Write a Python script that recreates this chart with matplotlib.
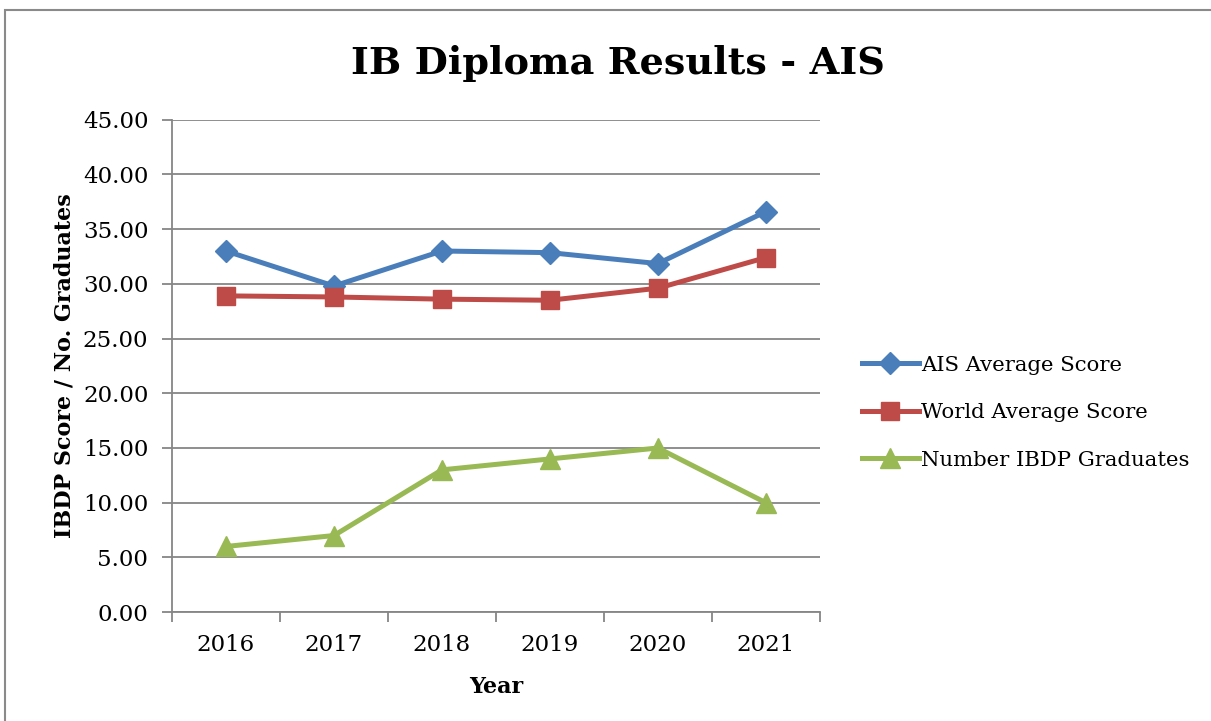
import matplotlib.pyplot as plt
from matplotlib.patches import Rectangle

years = ['2016', '2017', '2018', '2019', '2020', '2021']
ais_avg = [33.0, 29.8, 33.0, 32.85, 31.85, 36.6]
world_avg = [28.9, 28.8, 28.6, 28.5, 29.6, 32.4]
graduates = [6, 7, 13, 14, 15, 10]

plt.rcParams['font.family'] = ['DejaVu Serif']

fig = plt.figure(figsize=(12.11, 7.21), dpi=100)
ax = fig.add_axes([0.142, 0.151, 0.535, 0.683])

# outer chart border (right and bottom edges run off the picture)
fig.add_artist(Rectangle((0.004, -0.05), 1.1, 1.036, transform=fig.transFigure,
                         fill=False, edgecolor='#8a8a8a', linewidth=1.5))

x = list(range(len(years)))
ax.plot(x, ais_avg, color='#4A7EBB', linewidth=3.6, marker='D', markersize=11.5,
        label='AIS Average Score')
ax.plot(x, world_avg, color='#BE4B48', linewidth=3.6, marker='s', markersize=13.5,
        label='World Average Score')
ax.plot(x, graduates, color='#98B954', linewidth=3.6, marker='^', markersize=15,
        label='Number IBDP Graduates')

ax.set_xlim(-0.5, len(years) - 0.5)
ax.set_ylim(0, 45)
ax.set_yticks(range(0, 46, 5))
ax.set_yticklabels([f"{v:.2f}" for v in range(0, 46, 5)], fontsize=16.5)
ax.set_xticks(x)
ax.set_xticklabels(years, fontsize=16.5)
ax.set_xticks([i - 0.5 for i in range(len(years) + 1)], minor=True)
ax.tick_params(axis='x', which='major', length=0, pad=16)
ax.tick_params(axis='x', which='minor', length=7, color='#868686', width=1.3)
ax.tick_params(axis='y', length=7, color='#868686', width=1.3, pad=10)

ax.grid(True, axis='y', color='#868686', linewidth=1.3)
ax.set_axisbelow(True)
for side in ['top', 'right']:
    ax.spines[side].set_visible(False)
for side in ['left', 'bottom']:
    ax.spines[side].set_color('#868686')
    ax.spines[side].set_linewidth(1.3)

ax.set_xlabel('Year', fontsize=16, fontweight='bold', labelpad=14)
ax.set_ylabel('IBDP Score / No. Graduates', fontsize=16, fontweight='bold', labelpad=5)
fig.suptitle('IB Diploma Results - AIS', fontsize=27.5, fontweight='bold', x=0.51, y=0.937)

ax.legend(loc='center left', bbox_to_anchor=(1.035, 0.405), frameon=False, fontsize=15.3,
          handlelength=2.7, handletextpad=0.1, labelspacing=1.35)

fig.savefig('out.png', dpi=100)
